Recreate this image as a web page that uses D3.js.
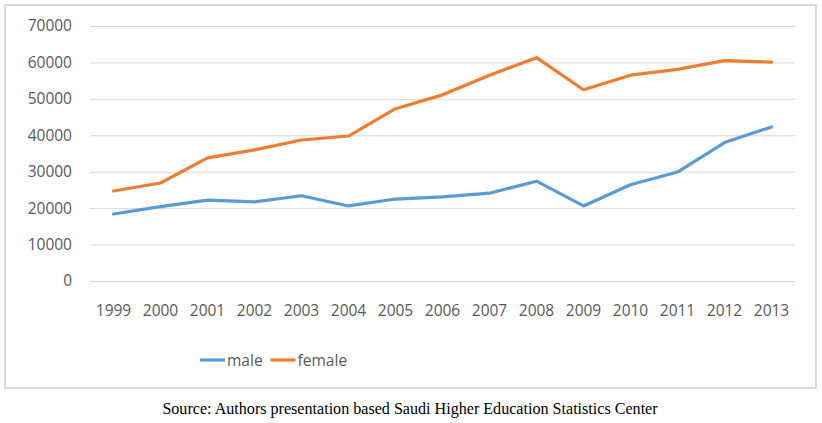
<!DOCTYPE html>
<html><head><meta charset="utf-8">
<script src="https://cdn.jsdelivr.net/npm/d3@7"></script>
<style>body{margin:0;background:#fff}</style>
</head><body>
<svg id="c" width="822" height="423"></svg>
<script>
const years = ["1999","2000","2001","2002","2003","2004","2005","2006","2007","2008","2009","2010","2011","2012","2013"];
const male = [18400,20400,22200,21700,23400,20600,22500,23100,24100,27400,20600,26400,29900,38000,42300];
const female = [24700,26900,33800,36000,38700,39800,47300,51100,56500,61300,52500,56500,58100,60500,60100];
const yTicks = [0,10000,20000,30000,40000,50000,60000,70000];
const seriesNames = ["male","female"];
const colors = ["#5b9bd5","#ed7d31"];

const svg = d3.select("#c");
const font = "'Open Sans', sans-serif";
const fs = "15.5px";
svg.append("rect").attr("x",5).attr("y",5).attr("width",811).attr("height",383)
  .attr("fill","#fff").attr("stroke","#d9d9d9").attr("stroke-width",2);

const x = d3.scaleBand().domain(years).range([90,795]);
const y = d3.scaleLinear().domain([0,70000]).range([281,26]);

const gy = svg.append("g").attr("transform","translate(90,0)")
  .call(d3.axisLeft(y).tickValues(yTicks).tickSize(-705).tickFormat(d3.format("d")).tickPadding(18));
gy.select(".domain").remove();
gy.selectAll("line").attr("stroke","#d9d9d9");
gy.selectAll("text").attr("fill","#595959").style("font-family",font).style("font-size",fs);

const gx = svg.append("g").attr("transform","translate(0,281)")
  .call(d3.axisBottom(x).tickSize(0).tickPadding(24));
gx.select(".domain").remove();
gx.selectAll("text").attr("fill","#595959").style("font-family",font).style("font-size",fs);

const line = d3.line().x((d,i)=>x(years[i])+x.bandwidth()/2).y(d=>y(d));
[male,female].forEach((s,k)=>{
  svg.append("path").datum(s).attr("d",line).attr("fill","none")
    .attr("stroke",colors[k]).attr("stroke-width",3.2).attr("stroke-linejoin","round").attr("stroke-linecap","round");
});

let lx = 200;
seriesNames.forEach((n,k)=>{
  svg.append("line").attr("x1",lx).attr("x2",lx+25).attr("y1",360).attr("y2",360)
    .attr("stroke",colors[k]).attr("stroke-width",3.2);
  const t = svg.append("text").attr("x",lx+27).attr("y",365.5).text(n)
    .attr("fill","#595959").style("font-family",font).style("font-size",fs);
  lx = lx + 27 + t.node().getComputedTextLength() + 8;
});

svg.append("text").attr("x",410).attr("y",414).attr("text-anchor","middle")
  .text("Source: Authors presentation based Saudi Higher Education Statistics Center")
  .style("font-family","'Liberation Serif','Times New Roman',serif").style("font-size","16.1px").attr("fill","#000");
</script>
</body></html>
